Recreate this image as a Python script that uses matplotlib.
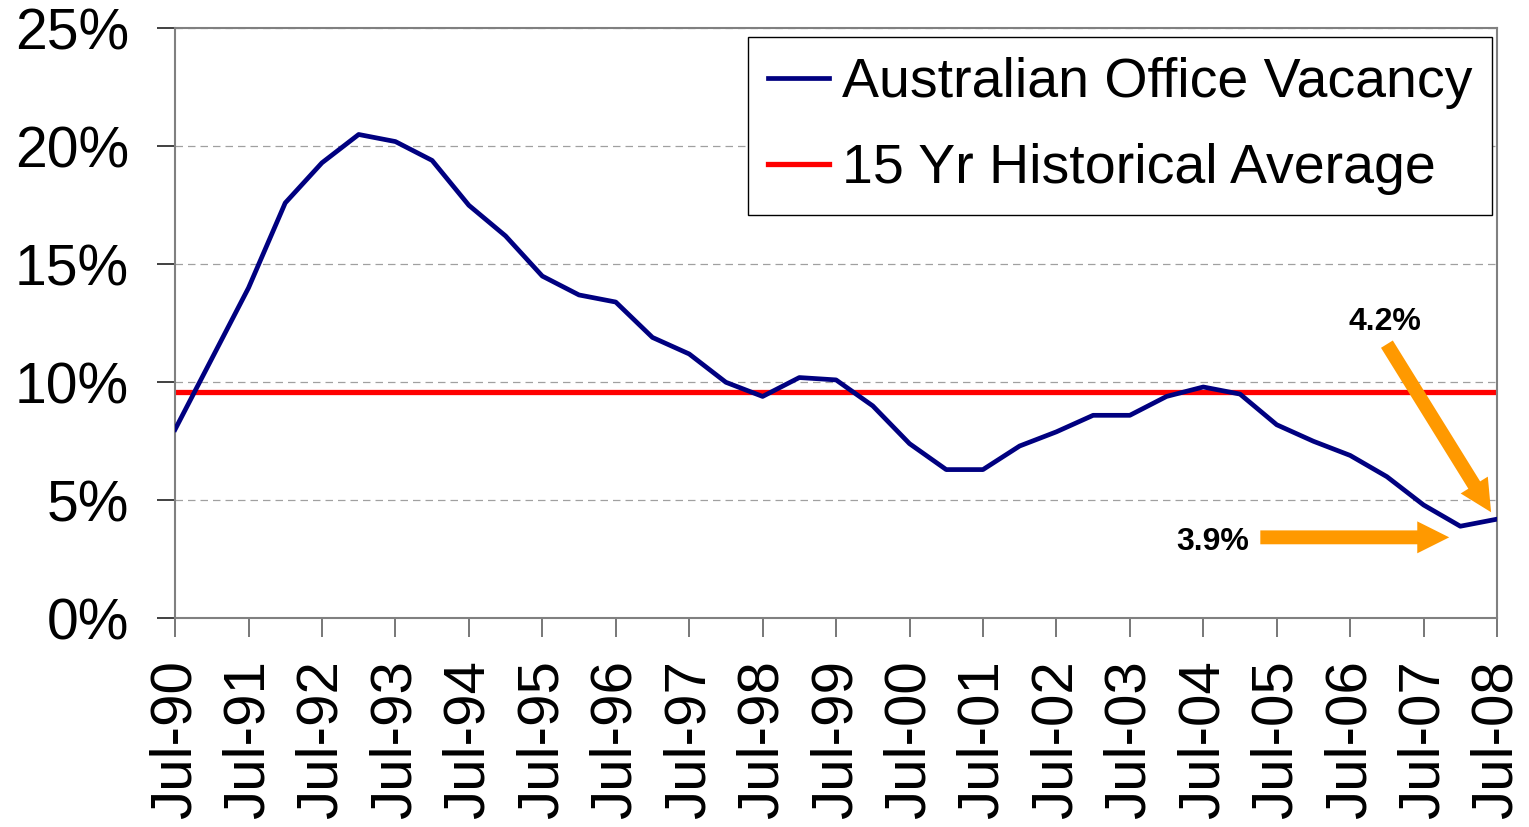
import numpy as np
import matplotlib
matplotlib.use("Agg")
import matplotlib.pyplot as plt
from matplotlib.ticker import FuncFormatter, MultipleLocator
from matplotlib.transforms import offset_copy

plt.rcParams['font.family'] = ['Liberation Sans', 'DejaVu Sans']

# half-yearly office vacancy (%), Jul-90 .. Jul-08
vacancy = [8.0, 11.0, 14.0, 17.6, 19.3, 20.5, 20.2, 19.4, 17.5, 16.2,
           14.5, 13.7, 13.4, 11.9, 11.2, 10.0, 9.4, 10.2, 10.1, 9.0,
           7.4, 6.3, 6.3, 7.3, 7.9, 8.6, 8.6, 9.4, 9.8, 9.5,
           8.2, 7.5, 6.9, 6.0, 4.8, 3.9, 4.2]
hist_avg = 9.6
tick_labels = ['Jul-90', 'Jul-91', 'Jul-92', 'Jul-93', 'Jul-94', 'Jul-95',
               'Jul-96', 'Jul-97', 'Jul-98', 'Jul-99', 'Jul-00', 'Jul-01',
               'Jul-02', 'Jul-03', 'Jul-04', 'Jul-05', 'Jul-06', 'Jul-07',
               'Jul-08']
years = np.arange(len(vacancy)) * 0.5  # years since Jul-90

navy = '#000080'
orange = '#FF9900'

fig = plt.figure(figsize=(15.29, 8.27), dpi=100)
ax = fig.add_axes([0.1145, 0.2524, 0.8646, 0.7134])

l_avg = ax.axhline(hist_avg, color='#FF0000', lw=3.8, zorder=2,
                   label='15 Yr Historical Average')
l_vac, = ax.plot(years, vacancy, color=navy, lw=3.4, zorder=3,
                 label='Australian Office Vacancy')

ax.set_xlim(0, len(tick_labels) - 1)
ax.set_ylim(0, 25)
ax.set_xticks(np.arange(len(tick_labels)))
ax.set_xticklabels(tick_labels, rotation=90, fontsize=42)
ax.yaxis.set_major_locator(MultipleLocator(5))
ax.yaxis.set_major_formatter(FuncFormatter(lambda v, p: f"{v:.0f}%"))
ax.tick_params(axis='y', labelsize=41, length=13, width=1.2, pad=20, color='#202020')
ax.tick_params(axis='x', length=14, width=1.2, pad=16, color='#606060')

ax.yaxis.grid(True, ls=(0, (6, 4)), color='#a0a0a0', lw=0.9)
ax.set_axisbelow(True)
for s in ax.spines.values():
    s.set_color('#808080')
    s.set_linewidth(1.5)

leg = ax.legend(handles=[l_vac, l_avg], loc='upper right',
                bbox_to_anchor=(0.9962, 0.9853), borderaxespad=0,
                fontsize=40, fancybox=False, edgecolor='black', framealpha=1,
                handlelength=1.1, handletextpad=0.22, borderpad=0.36,
                labelspacing=0.62)
leg.get_frame().set_linewidth(1.0)

arrow_kw = dict(width=10, headwidth=23, headlength=23, facecolor=orange,
                edgecolor='none', shrink=0)

# 3.9% arrow, pointing at Jan-08
ax.annotate('', xy=(years[-2], vacancy[-2]),
            xycoords=offset_copy(ax.transData, fig=fig, x=-8, y=-8, units='points'),
            xytext=(-136, 0), textcoords='offset points', arrowprops=arrow_kw)
ax.annotate('3.9%', xy=(years[-2], vacancy[-2]), xytext=(-152, -11),
            textcoords='offset points', ha='right', va='center',
            fontsize=23, fontweight='bold')

# 4.2% arrow, pointing at Jul-08
ax.annotate('', xy=(years[-1], vacancy[-1]),
            xycoords=offset_copy(ax.transData, fig=fig, x=-4.3, y=5, units='points'),
            xytext=(-75, 121), textcoords='offset points', arrowprops=arrow_kw)
ax.annotate('4.2%', xy=(years[-1], vacancy[-1]), xytext=(-81, 142),
            textcoords='offset points', ha='center', va='center',
            fontsize=23, fontweight='bold')

fig.savefig('out.png', dpi=100)
